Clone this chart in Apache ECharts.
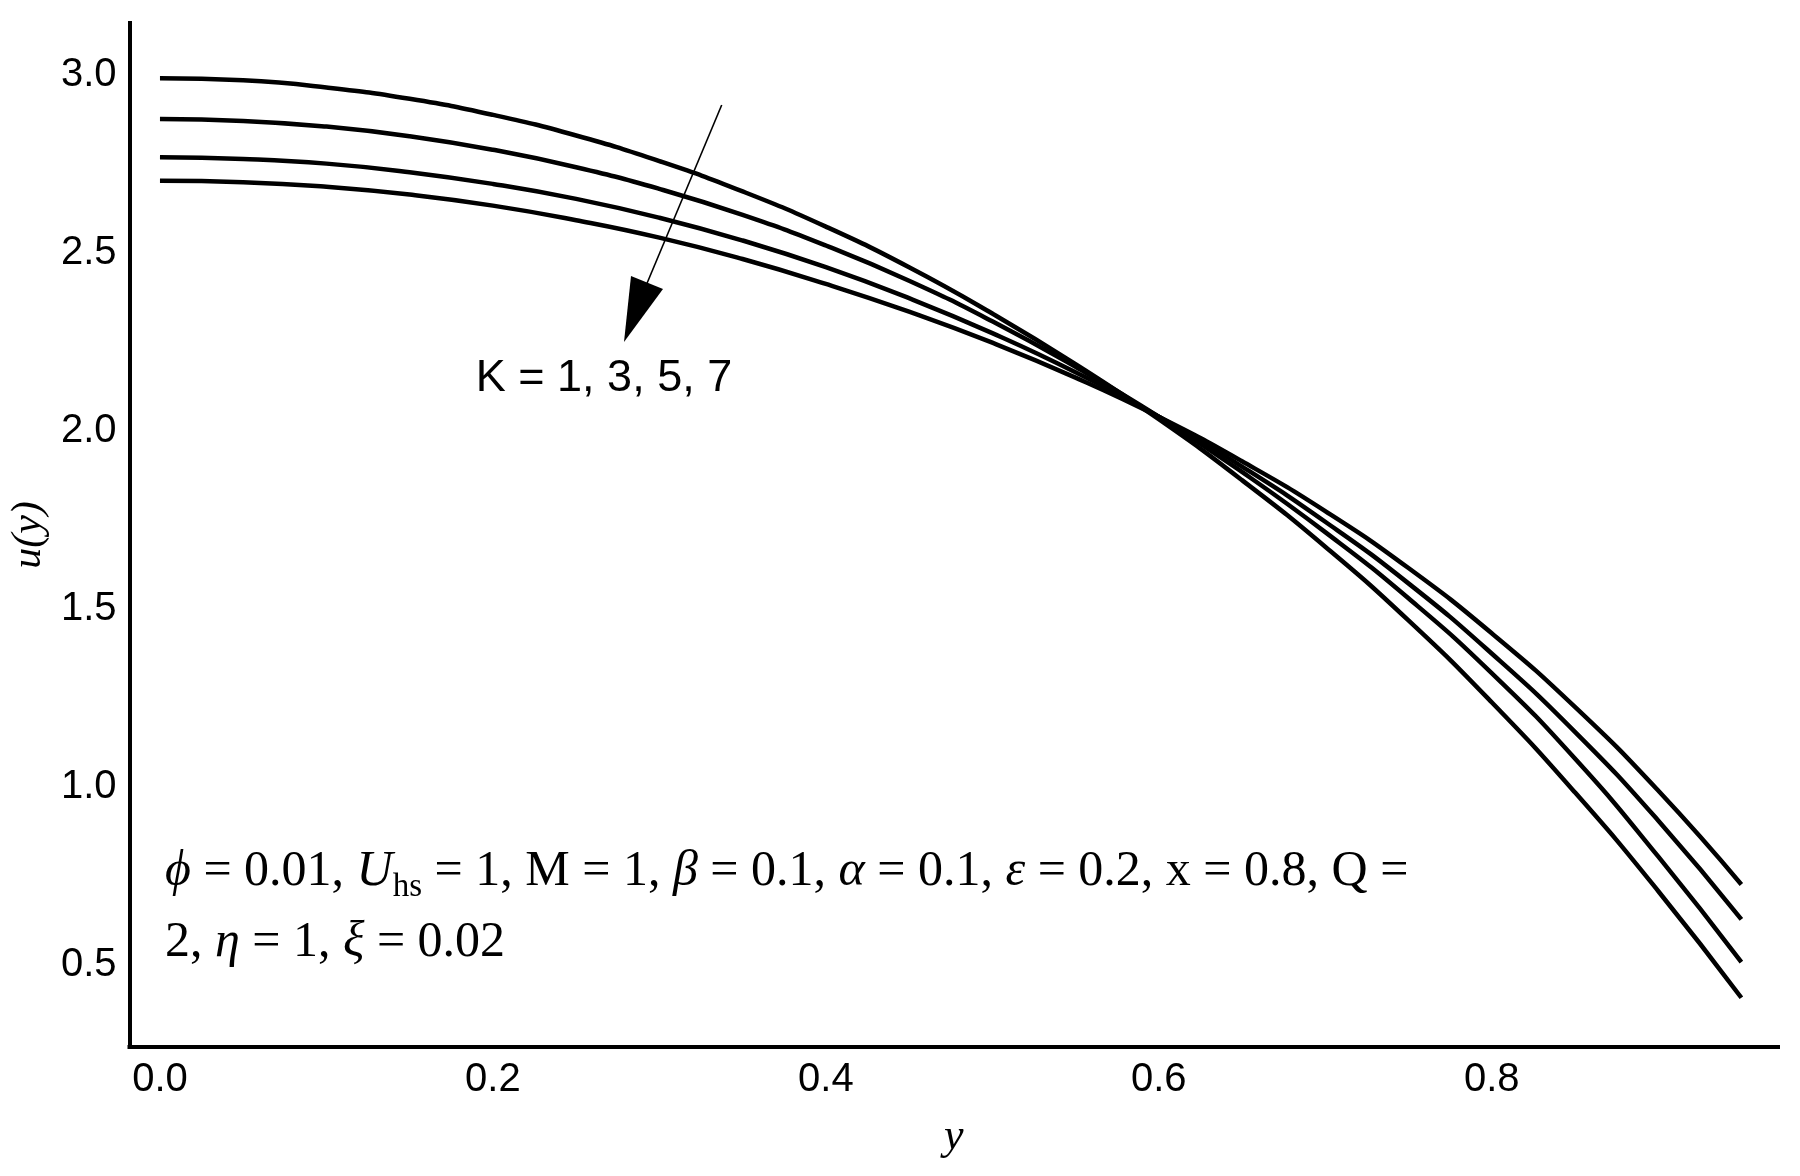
<!DOCTYPE html>
<html>
<head>
<meta charset="utf-8">
<title>u(y) profiles for K = 1, 3, 5, 7</title>
<script src="https://cdn.jsdelivr.net/npm/echarts@6/dist/echarts.min.js"></script>
<style>
  html, body { margin: 0; padding: 0; background: #fff; }
  #main { width: 1800px; height: 1176px; }
</style>
</head>
<body>
<div id="main"></div>
<script>
// y positions across the channel
const yValues = [0, 0.05, 0.1, 0.15, 0.2, 0.25, 0.3, 0.35, 0.4, 0.45, 0.5,
  0.55, 0.6, 0.65, 0.7, 0.75, 0.8, 0.85, 0.9, 0.95]

// u(y), one list per K
const uK1 = [2.991, 2.985, 2.965, 2.933, 2.888, 2.830, 2.758, 2.673, 2.574, 2.460,
  2.330, 2.188, 2.033, 1.862, 1.675, 1.468, 1.238, 0.985, 0.708, 0.408]
const uK3 = [2.876, 2.871, 2.855, 2.828, 2.790, 2.741, 2.680, 2.607, 2.521, 2.422,
  2.308, 2.180, 2.040, 1.885, 1.716, 1.530, 1.320, 1.080, 0.805, 0.508]
const uK5 = [2.769, 2.764, 2.751, 2.727, 2.694, 2.652, 2.599, 2.535, 2.460, 2.373,
  2.275, 2.165, 2.040, 1.900, 1.745, 1.572, 1.375, 1.155, 0.906, 0.628]
const uK7 = [2.703, 2.699, 2.686, 2.664, 2.633, 2.592, 2.543, 2.483, 2.413, 2.335,
  2.248, 2.150, 2.040, 1.915, 1.775, 1.615, 1.432, 1.225, 0.990, 0.726]

const xTicks = [0, 0.2, 0.4, 0.6, 0.8]
const yTicks = [0.5, 1.0, 1.5, 2.0, 2.5, 3.0]

const kLabel = 'K = 1, 3, 5, 7'

const chart = echarts.init(document.getElementById('main'))

function pairs (ys) {
  return ys.map((v, i) => [yValues[i], v])
}

function curve (name, ys) {
  return {
    name: name,
    type: 'line',
    data: pairs(ys),
    smooth: true,
    showSymbol: false,
    silent: true,
    lineStyle: { color: '#000', width: 4.5 }
  }
}

const tickFont = {
  fontFamily: '"Liberation Sans", Arial, sans-serif',
  fontSize: 40,
  color: '#000'
}

const serif = '"Liberation Serif", "Times New Roman", serif'

const option = {
  backgroundColor: '#fff',
  animation: false,
  grid: { left: 127, right: 22, top: 23, bottom: 129 },
  xAxis: {
    type: 'value',
    min: -0.0183,
    max: 0.972,
    name: 'y',
    nameLocation: 'middle',
    nameGap: 68,
    nameTextStyle: {
      fontFamily: serif,
      fontStyle: 'italic',
      fontSize: 44,
      color: '#000'
    },
    axisLine: { onZero: false, lineStyle: { color: '#000', width: 4, cap: 'square' } },
    axisTick: { show: false },
    splitLine: { show: false },
    axisLabel: Object.assign({ customValues: xTicks, margin: 13, formatter: (v) => v.toFixed(1) }, tickFont)
  },
  yAxis: {
    type: 'value',
    min: 0.2697,
    max: 3.146,
    name: 'u(y)',
    nameLocation: 'middle',
    nameRotate: 90,
    nameGap: 74,
    nameTextStyle: {
      fontFamily: serif,
      fontStyle: 'italic',
      fontSize: 42,
      color: '#000'
    },
    axisLine: { onZero: false, lineStyle: { color: '#000', width: 4, cap: 'square' } },
    axisTick: { show: false },
    splitLine: { show: false },
    axisLabel: Object.assign({ customValues: yTicks, margin: 13, formatter: (v) => v.toFixed(1) }, tickFont)
  },
  series: [
    curve('K = 1', uK1),
    curve('K = 3', uK3),
    curve('K = 5', uK5),
    curve('K = 7', uK7)
  ],
  graphic: [
    // arrow showing the direction of increasing K
    {
      type: 'line',
      silent: true,
      shape: { x1: 721.7, y1: 105, x2: 640, y2: 300 },
      style: { stroke: '#000', lineWidth: 1.6 }
    },
    {
      type: 'polygon',
      silent: true,
      shape: { points: [[624, 342], [631, 276], [663, 289]] },
      style: { fill: '#000' }
    },
    {
      type: 'text',
      silent: true,
      x: 604,
      y: 379,
      style: {
        text: kLabel,
        fontFamily: '"Liberation Sans", Arial, sans-serif',
        fontSize: 45,
        fill: '#000',
        align: 'center',
        verticalAlign: 'middle'
      }
    },
    // parameter list
    {
      type: 'text',
      silent: true,
      x: 165,
      y: 836,
      style: {
        text: '{i|ϕ} = 0.01, {i|U}{s|hs} = 1, M = 1, {i|β} = 0.1, {i|α} = 0.1, {i|ε} = 0.2, x = 0.8, Q =\n' +
          '2, {i|η} = 1, {i|ξ} = 0.02',
        fontFamily: serif,
        fontSize: 50,
        lineHeight: 71,
        fill: '#000',
        rich: {
          i: {
            fontFamily: serif,
            fontStyle: 'italic',
            fontSize: 50,
            lineHeight: 71,
            fill: '#000'
          },
          s: {
            fontFamily: serif,
            fontSize: 33,
            lineHeight: 33,
            padding: [32, 0, 0, 0],
            fill: '#000'
          }
        }
      }
    }
  ]
}

chart.setOption(option)
</script>
</body>
</html>
